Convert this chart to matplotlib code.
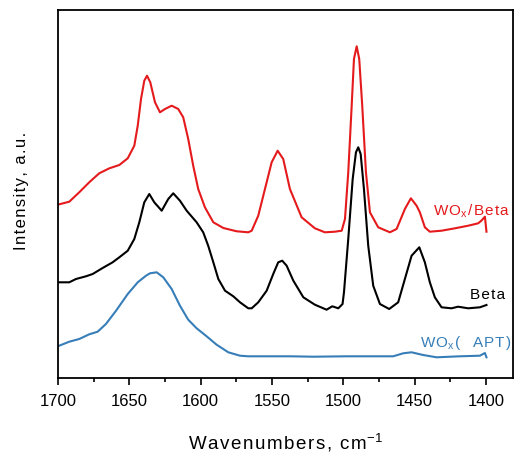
import matplotlib
matplotlib.use("Agg")
import matplotlib.pyplot as plt
from matplotlib.ticker import MultipleLocator

plt.rcParams["font.family"] = ["Liberation Sans", "DejaVu Sans"]
plt.rcParams["mathtext.fontset"] = "custom"
plt.rcParams["mathtext.rm"] = "Liberation Sans"
plt.rcParams["mathtext.it"] = "Liberation Sans"

HS = "\u200a"  # hair space, the original text is letter-spaced

# WOx/Beta (red)
red_wn = [1700.2, 1692.1, 1685.1, 1678.1, 1671.1, 1664.0, 1657.0, 1651.1, 1646.5, 1644.1,
          1641.8, 1639.5, 1637.6, 1635.3, 1632.0, 1628.5, 1625.0, 1620.3, 1615.7, 1612.2,
          1608.7, 1605.2, 1601.7, 1597.0, 1591.1, 1584.1, 1574.7, 1566.6, 1564.2, 1559.6,
          1554.9, 1550.2, 1546.0, 1542.1, 1537.4, 1529.2, 1519.9, 1512.9, 1505.8, 1501.1,
          1498.8, 1496.5, 1494.1, 1492.5, 1490.6, 1488.8, 1486.7, 1484.1, 1481.3, 1475.5,
          1467.3, 1462.6, 1456.8, 1452.6, 1448.6, 1446.3, 1442.8, 1439.3, 1431.1, 1421.7,
          1412.4, 1405.4, 1403.2, 1400.7, 1399.6]
red_int = [173.3, 176.3, 185.7, 195.7, 204.7, 209.7, 213.0, 219.7, 232.3, 252.3,
           279.0, 297.3, 302.3, 295.7, 275.7, 265.7, 269.0, 272.3, 269.0, 260.7,
           239.0, 212.3, 189.0, 170.7, 155.7, 150.0, 146.7, 145.7, 147.3, 162.3,
           189.0, 215.7, 227.3, 219.0, 189.0, 160.7, 149.7, 145.7, 146.3, 147.3,
           159.0, 205.7, 272.3, 319.0, 331.7, 319.0, 272.3, 205.7, 165.7, 150.7,
           145.7, 149.0, 169.0, 179.7, 172.3, 165.7, 150.7, 146.3, 147.3, 149.7,
           152.3, 154.7, 157.3, 161.3, 146.3]

# Beta (black)
blk_wn = [1700.2, 1692.1, 1687.4, 1680.4, 1675.7, 1668.7, 1661.7, 1657.0, 1651.1, 1646.5,
          1643.0, 1639.5, 1636.0, 1632.5, 1627.3, 1622.7, 1619.2, 1614.5, 1609.8, 1602.8,
          1598.2, 1594.7, 1591.1, 1587.6, 1582.9, 1577.1, 1572.4, 1566.6, 1564.2, 1559.6,
          1553.7, 1549.1, 1545.6, 1542.8, 1539.7, 1535.0, 1528.0, 1519.9, 1511.7, 1507.7,
          1503.5, 1500.5, 1499.5, 1496.5, 1493.4, 1491.1, 1489.5, 1487.8, 1485.5, 1482.5,
          1479.0, 1474.3, 1467.8, 1461.5, 1456.8, 1452.1, 1446.7, 1442.8, 1439.3, 1435.8,
          1431.1, 1424.1, 1419.5, 1412.4, 1404.2, 1399.6]
blk_int = [95.7, 95.7, 99.0, 101.7, 104.0, 110.0, 115.7, 120.7, 127.3, 139.0,
           155.7, 175.7, 184.0, 175.7, 167.3, 179.0, 184.7, 177.3, 167.3, 155.7,
           145.7, 132.3, 115.7, 99.0, 87.3, 81.7, 75.7, 69.7, 69.7, 75.7,
           87.3, 104.0, 115.7, 117.3, 112.3, 97.3, 80.7, 73.3, 68.3, 71.7,
           69.7, 74.0, 85.7, 139.0, 199.0, 225.7, 230.7, 224.0, 189.0, 132.3,
           92.3, 74.0, 69.0, 75.7, 99.0, 122.3, 130.7, 115.7, 95.7, 80.7,
           70.7, 69.7, 71.3, 69.7, 70.7, 73.0]

# WOx (APT) (blue)
blu_wn = [1700.2, 1692.1, 1685.1, 1678.1, 1672.2, 1666.4, 1659.3, 1651.1, 1644.1, 1638.3,
          1635.5, 1630.8, 1626.2, 1620.3, 1614.5, 1608.7, 1602.8, 1595.8, 1588.8, 1580.6,
          1572.4, 1566.6, 1537.4, 1521.0, 1497.6, 1465.0, 1458.0, 1452.1, 1444.0, 1434.6,
          1418.2, 1404.2, 1400.7, 1399.6]
blu_int = [31.7, 36.3, 39.0, 43.7, 46.3, 54.0, 67.3, 84.0, 95.7, 102.3,
           104.7, 105.7, 100.7, 89.0, 72.3, 58.3, 49.7, 41.7, 33.3, 25.7,
           22.3, 21.7, 21.7, 21.3, 21.7, 21.7, 24.7, 25.7, 23.0, 20.7,
           21.7, 22.3, 25.0, 20.7]


def spaced(s):
    return HS.join(s)


fig = plt.figure(figsize=(5.14, 4.56), dpi=100)
ax = fig.add_axes([58/514, 77/456, 455/514, 368/456])

ax.plot(red_wn, red_int, color="#e41a1c", lw=1.5)
ax.plot(blk_wn, blk_int, color="black", lw=1.5)
ax.plot(blu_wn, blu_int, color="#377eb8", lw=1.5)

ax.text(1437, 168, spaced("WO") + "$_x$" + HS + spaced("/Beta"), color="#e41a1c",
        fontsize=11, va="center", ha="left")
ax.text(1411, 84, spaced("Beta"), color="black", fontsize=11, va="center", ha="left")
ax.text(1446, 36, spaced("WO") + "$_x$" + HS + spaced("(  APT)"), color="#377eb8",
        fontsize=11, va="center", ha="left")

ax.set_xlim(1700, 1381)
ax.set_ylim(0, 368)
ax.xaxis.set_major_locator(MultipleLocator(50))
ax.xaxis.set_minor_locator(MultipleLocator(25))
ax.tick_params(axis="x", which="major", direction="out", length=5, width=1.2, labelsize=12, pad=6)
ax.tick_params(axis="x", which="minor", direction="out", length=3, width=1.2)
ax.set_yticks([])
for s in ax.spines.values():
    s.set_linewidth(1.3)

ax.set_xlabel(spaced("Wavenumbers, cm") + "$^{-1}$", fontsize=13.5, labelpad=16)
ax.set_ylabel(spaced("Intensity, a.u."), fontsize=12)
ax.yaxis.set_label_coords(-0.064, 0.51)

fig.savefig("out.png", dpi=100)
